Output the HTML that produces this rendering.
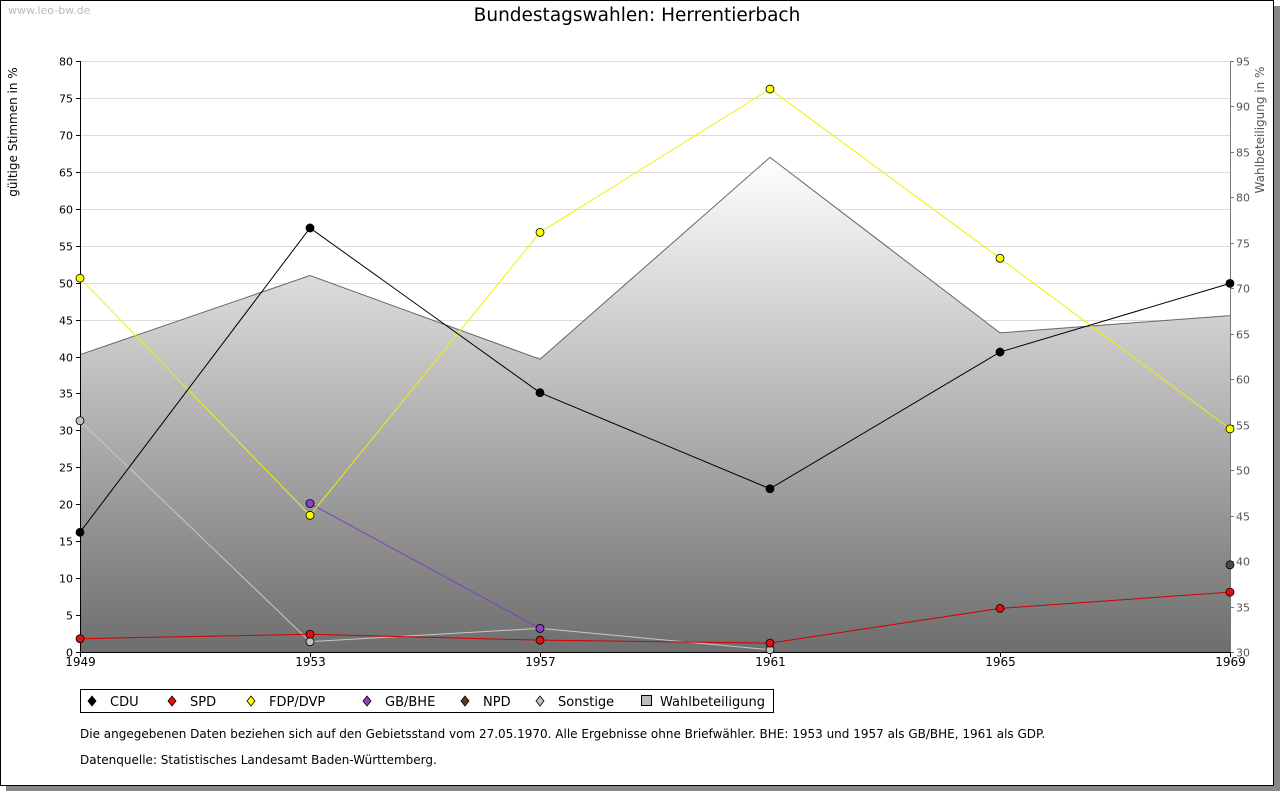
<!DOCTYPE html>
<html><head><meta charset="utf-8">
<style>
html,body{margin:0;padding:0;background:#fff;}
body{width:1280px;height:791px;position:relative;overflow:hidden;font-family:"DejaVu Sans","Liberation Sans",sans-serif;}
#frame{position:absolute;left:0;top:0;width:1272px;height:784px;border:1px solid #000;box-shadow:6px 6px 0 #888;background:#fff;}
</style></head>
<body>
<div id="frame"></div>
<svg id="chart" width="1280" height="791" style="position:absolute;left:0;top:0">
<defs>
<linearGradient id="wbg" x1="0" y1="0" x2="0" y2="1">
<stop offset="0" stop-color="#ffffff"/><stop offset="1" stop-color="#6e6e6e"/>
</linearGradient>
</defs>
<text x="8" y="14" font-size="11" fill="#bbb">www.leo-bw.de</text>
<text x="637" y="21" font-size="18.5" text-anchor="middle" fill="#000">Bundestagswahlen: Herrentierbach</text>
<text transform="translate(17,132) rotate(-90)" font-size="12" text-anchor="middle">gültige Stimmen in %</text>
<text transform="translate(1264,130) rotate(-90)" font-size="12" text-anchor="middle" fill="#555">Wahlbeteiligung in %</text>
<g id="grid"></g><g id="area"></g><g id="axes"></g><g id="series"></g>
<g>
<rect x="80.5" y="689.5" width="693" height="23" fill="#fff" stroke="#000"/>
</g>
<g id="legend"></g>
<text x="80" y="738" font-size="12">Die angegebenen Daten beziehen sich auf den Gebietsstand vom 27.05.1970. Alle Ergebnisse ohne Briefwähler. BHE: 1953 und 1957 als GB/BHE, 1961 als GDP.</text>
<text x="80" y="764" font-size="12">Datenquelle: Statistisches Landesamt Baden-Württemberg.</text>
</svg>
<script>
const years=[1949,1953,1957,1961,1965,1969];
const cdu=[16.2,57.4,35.1,22.1,40.6,49.9];
const spd=[1.8,2.4,1.6,1.2,5.9,8.1];
const fdp=[50.6,18.5,56.8,76.2,53.3,30.2];
const gbbhe=[null,20.1,3.2,null,null,null];
const npd=[null,null,null,null,null,11.8];
const sonstige=[31.3,1.4,3.2,0.3,null,null];
const turnout=[62.7,71.4,62.2,84.4,65.1,67.0];
const leftTicks=[0,5,10,15,20,25,30,35,40,45,50,55,60,65,70,75,80];
const rightTicks=[30,35,40,45,50,55,60,65,70,75,80,85,90,95];

const X0=80,X1=1230,YT=61,YB=652;
const xs=i=>X0+(X1-X0)*i/(years.length-1);
const yl=v=>YB-(v-0)/(80-0)*(YB-YT);
const yr=v=>YB-(v-30)/(95-30)*(YB-YT);
const NS="http://www.w3.org/2000/svg";
function mk(tag,attrs,parent){const e=document.createElementNS(NS,tag);for(const k in attrs)e.setAttribute(k,attrs[k]);parent.appendChild(e);return e;}
const grid=document.getElementById('grid'),area=document.getElementById('area'),axes=document.getElementById('axes'),ser=document.getElementById('series'),leg=document.getElementById('legend');

leftTicks.forEach(t=>{
 const y=Math.round(yl(t))+0.5;
 const l=mk('line',{x1:X0,x2:X1,y1:y,y2:y,stroke:'#dcdcdc'},grid);
 
 
 const tx=mk('text',{x:73,y:y+4,'font-size':11,'text-anchor':'end'},axes);tx.textContent=t;
 
 
 mk('line',{x1:X0-4,x2:X0,y1:y,y2:y,stroke:'#000'},axes);
});
rightTicks.forEach(t=>{
 const y=Math.round(yr(t))+0.5;
 const tx=mk('text',{x:1236,y:y+4,'font-size':11,fill:'#555'},axes);tx.textContent=t;
 
 
 mk('line',{x1:X1,x2:X1+4,y1:y,y2:y,stroke:'#777'},axes);
});
let d='M'+X0+','+YB;turnout.forEach((v,i)=>{d+=' L'+xs(i)+','+yr(v);});d+=' L'+X1+','+YB+' Z';
const ar=mk('path',{d:d,fill:'url(#wbg)',stroke:'none'},area);


let d2='';turnout.forEach((v,i)=>{d2+=(i?' L':'M')+xs(i)+','+yr(v);});
mk('path',{d:d2,fill:'none',stroke:'#666','stroke-width':1},area);
mk('line',{x1:X0+0.5,x2:X0+0.5,y1:YT,y2:YB,stroke:'#000'},axes);
mk('line',{x1:X1+0.5,x2:X1+0.5,y1:YT,y2:YB,stroke:'#777'},axes);
mk('line',{x1:X0,x2:X1,y1:YB+0.5,y2:YB+0.5,stroke:'#000'},axes);
years.forEach((yv,i)=>{
 const x=Math.round(xs(i))+0.5;
 mk('line',{x1:x,x2:x,y1:YB,y2:YB+5,stroke:'#000'},axes);
 const tx=mk('text',{x:x,y:666,'font-size':12,'text-anchor':'middle'},axes);tx.textContent=yv;
 
 
});
const seriesDefs=[
 {name:'sonstige',data:sonstige,line:'#c8c8c8',fill:'#c0c0c0'},
 {name:'gbbhe',data:gbbhe,line:'#8040c0',fill:'#9040c0'},
 {name:'spd',data:spd,line:'#d00000',fill:'#e01010'},
 {name:'fdp',data:fdp,line:'#f0f000',fill:'#ffff00'},
 {name:'cdu',data:cdu,line:'#000',fill:'#000'},
 {name:'npd',data:npd,line:'#5a4030',fill:'#4a4a4a'}
];
seriesDefs.forEach(s=>{
 let p='',started=false;
 s.data.forEach((v,i)=>{if(v==null){started=false;return;}p+=(started?' L':' M')+xs(i)+','+yl(v);started=true;});
 const pl=mk('path',{d:p,fill:'none',stroke:s.line,'stroke-width':1},ser);
 
 
});
seriesDefs.forEach(s=>{
 s.data.forEach((v,i)=>{if(v==null)return;
  const c=mk('circle',{cx:xs(i),cy:yl(v),r:4,fill:s.fill,stroke:'#000','stroke-width':0.8},ser);
  
  
 });
});
const legItems=[['CDU','#000',92],['SPD','#e01010',172],['FDP/DVP','#ffff00',251],['GB/BHE','#9040c0',367],['NPD','#5a3a28',465],['Sonstige','#c0c0c0',540]];
legItems.forEach(([n,c,x])=>{
 const g=mk('g',{},leg);
 
 
 mk('path',{d:`M${x},${696} L${x+4},${701} L${x},${706} L${x-4},${701} Z`,fill:c,stroke:'#000','stroke-width':0.8},g);
 const t=mk('text',{x:x+18,y:706,'font-size':13},g);t.textContent=n;
});
const g=mk('g',{},leg);


mk('rect',{x:641.5,y:695.5,width:10,height:10,fill:'#bbb',stroke:'#000'},g);
const t=mk('text',{x:660,y:706,'font-size':13},g);t.textContent='Wahlbeteiligung';
</script>
</body></html>
